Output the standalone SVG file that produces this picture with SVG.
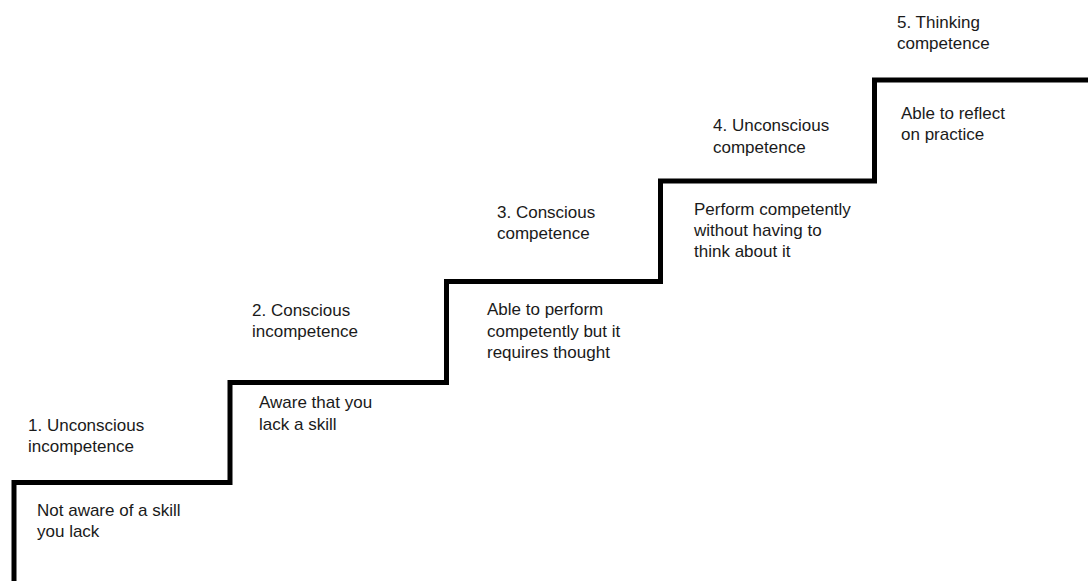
<svg xmlns="http://www.w3.org/2000/svg" width="1088" height="581" viewBox="0 0 1088 581">
<style>
.lbl{font-family:"Liberation Sans",Arial,sans-serif;font-size:17px;fill:#1a1a1a}
.stair{fill:none;stroke:#000;stroke-width:5;stroke-linejoin:miter}
</style>
<rect width="1088" height="581" fill="#fff"/>
<g id="connectors">
<path class="stair" d="M14,585 V482.5 H230 V382.5 H446.5 V281.5 H660.5 V181 H874.5 V80 H1092"/>
</g>
<g id="step1">
<text class="lbl" x="28" y="431">1. Unconscious</text>
<text class="lbl" x="28" y="452">incompetence</text>
<text class="lbl" x="37" y="516">Not aware of a skill</text>
<text class="lbl" x="37" y="537">you lack</text>
</g>
<g id="step2">
<text class="lbl" x="252" y="316">2. Conscious</text>
<text class="lbl" x="252" y="337">incompetence</text>
<text class="lbl" x="259" y="408">Aware that you</text>
<text class="lbl" x="259" y="430">lack a skill</text>
</g>
<g id="step3">
<text class="lbl" x="497" y="218">3. Conscious</text>
<text class="lbl" x="497" y="239">competence</text>
<text class="lbl" x="487" y="315">Able to perform</text>
<text class="lbl" x="487" y="337">competently but it</text>
<text class="lbl" x="487" y="358">requires thought</text>
</g>
<g id="step4">
<text class="lbl" x="713" y="131">4. Unconscious</text>
<text class="lbl" x="713" y="153">competence</text>
<text class="lbl" x="694" y="215">Perform competently</text>
<text class="lbl" x="694" y="236">without having to</text>
<text class="lbl" x="694" y="257">think about it</text>
</g>
<g id="step5">
<text class="lbl" x="897" y="28">5. Thinking</text>
<text class="lbl" x="897" y="49">competence</text>
<text class="lbl" x="901" y="119">Able to reflect</text>
<text class="lbl" x="901" y="140">on practice</text>
</g>
</svg>
